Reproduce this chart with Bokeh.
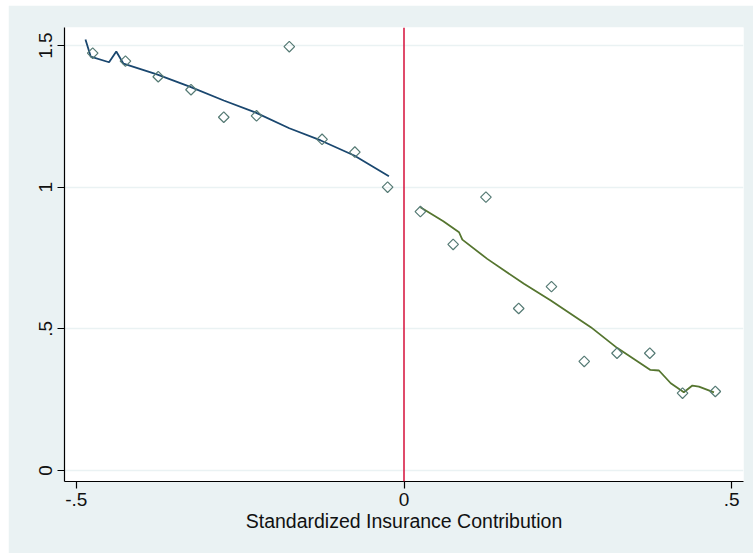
import math
from bokeh.plotting import figure
from bokeh.models import FixedTicker, Span
from bokeh.embed import file_html
from bokeh.resources import INLINE

# Binned means of the outcome (left and right of the cutoff)
bin_x_left = [-0.475, -0.425, -0.375, -0.325, -0.275, -0.225, -0.175, -0.125, -0.075, -0.025]
bin_y_left = [1.473, 1.445, 1.390, 1.344, 1.247, 1.252, 1.496, 1.169, 1.124, 1.000]
bin_x_right = [0.025, 0.075, 0.125, 0.175, 0.225, 0.275, 0.325, 0.375, 0.425, 0.475]
bin_y_right = [0.914, 0.798, 0.965, 0.572, 0.649, 0.385, 0.414, 0.414, 0.273, 0.279]

# Local fits on each side of the cutoff
fit_x_left = [-0.486, -0.478, -0.450, -0.439, -0.428, -0.377, -0.327, -0.275,
              -0.227, -0.175, -0.127, -0.076, -0.023]
fit_y_left = [1.521, 1.461, 1.441, 1.479, 1.436, 1.398, 1.355, 1.306,
              1.264, 1.208, 1.165, 1.112, 1.039]
fit_x_right = [0.025, 0.060, 0.084, 0.089, 0.127, 0.183, 0.224, 0.285, 0.325,
               0.376, 0.389, 0.407, 0.427, 0.440, 0.450, 0.473]
fit_y_right = [0.929, 0.880, 0.841, 0.815, 0.747, 0.659, 0.600, 0.506, 0.433,
               0.355, 0.353, 0.308, 0.276, 0.300, 0.296, 0.276]

cutoff = 0.0
x_ticks = [-0.5, 0.0, 0.5]
x_tick_labels = ["-.5", "0", ".5"]
y_ticks = [0.0, 0.5, 1.0, 1.5]
y_tick_labels = ["0", ".5", "1", "1.5"]
x_title = "Standardized Insurance Contribution"

BG = "#EAF2F3"
FONT = "Liberation Sans"

p = figure(
    frame_width=679, frame_height=454,
    min_border_left=56, min_border_right=10, min_border_top=22, min_border_bottom=72,
    x_range=(-0.518, 0.518), y_range=(-0.0388, 1.5637),
    output_backend="svg", toolbar_location=None, margin=(5, 0, 0, 8),
)
p.border_fill_color = BG
p.background_fill_color = "white"
p.outline_line_color = None

p.xgrid.visible = False
p.ygrid.ticker = FixedTicker(ticks=y_ticks)
p.ygrid.grid_line_color = BG
p.ygrid.grid_line_width = 1.5

for ax in (p.xaxis[0], p.yaxis[0]):
    ax.axis_line_color = "black"
    ax.axis_line_width = 1.2
    ax.major_tick_line_color = "black"
    ax.major_tick_line_width = 1.2
    ax.major_tick_in = 0
    ax.major_tick_out = 7
    ax.minor_tick_line_color = None
    ax.major_label_text_font = FONT
    ax.major_label_text_font_size = "19px"
    ax.major_label_text_color = "#111111"

p.xaxis.ticker = FixedTicker(ticks=x_ticks)
p.xaxis.major_label_overrides = dict(zip(x_ticks, x_tick_labels))
p.xaxis.major_label_standoff = 4
p.xaxis.axis_label = x_title
p.xaxis.axis_label_text_font = FONT
p.xaxis.axis_label_text_font_size = "19.5px"
p.xaxis.axis_label_text_font_style = "normal"
p.xaxis.axis_label_text_color = "#111111"
p.xaxis.axis_label_standoff = 1

p.yaxis.ticker = FixedTicker(ticks=y_ticks)
p.yaxis.major_label_overrides = dict(zip(y_ticks, y_tick_labels))
p.yaxis.major_label_orientation = "parallel"
p.yaxis.major_label_standoff = 5

# Cutoff line
p.add_layout(Span(location=cutoff, dimension="height", line_color="#d81e46", line_width=1.6))

# Fitted curves
p.line(fit_x_left, fit_y_left, line_color="#1a476f", line_width=1.8)
p.line(fit_x_right, fit_y_right, line_color="#55752f", line_width=1.8)

# Bin means as hollow diamonds
for xs, ys in ((bin_x_left, bin_y_left), (bin_x_right, bin_y_right)):
    p.scatter(xs, ys, marker="square", angle=math.pi / 4, size=7.5,
              fill_color=None, line_color="#557a74", line_width=1.2)

open("out.html", "w").write(file_html(p, INLINE))
